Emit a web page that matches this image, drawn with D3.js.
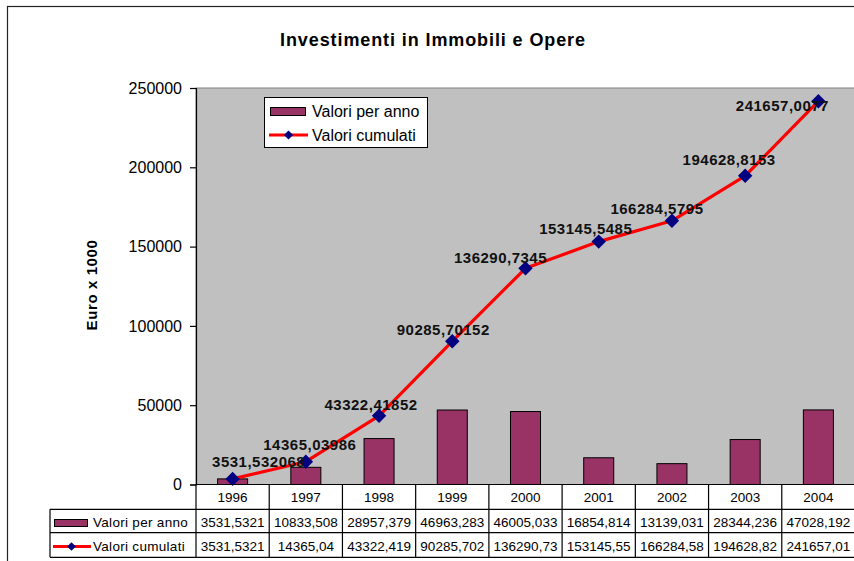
<!DOCTYPE html>
<html><head><meta charset="utf-8">
<script src="https://cdn.jsdelivr.net/npm/d3@7"></script>
<style>
html,body{margin:0;padding:0;background:#fff;}
svg{display:block;font-family:"Liberation Sans",Arial,sans-serif;}
</style></head>
<body><svg id="chart" width="854" height="561"></svg>
<script>
const title = "Investimenti in Immobili e Opere";
const yTitle = "Euro x 1000";
const years = ["1996","1997","1998","1999","2000","2001","2002","2003","2004"];
const seriesNames = ["Valori per anno","Valori cumulati"];
const perAnno = [3531.5321,10833.508,28957.379,46963.283,46005.033,16854.814,13139.031,28344.236,47028.192];
const cumulati = [3531.532068,14365.03986,43322.41852,90285.70152,136290.7345,153145.5485,166284.5795,194628.8153,241657.0077];
const perAnnoText = ["3531,5321","10833,508","28957,379","46963,283","46005,033","16854,814","13139,031","28344,236","47028,192"];
const cumulatiText = ["3531,5321","14365,04","43322,419","90285,702","136290,73","153145,55","166284,58","194628,82","241657,01"];
const labelText = ["3531,532068","14365,03986","43322,41852","90285,70152","136290,7345","153145,5485","166284,5795","194628,8153","241657,0077"];
const yTicks = [0,50000,100000,150000,200000,250000];

// layout (not data)
const labelDx = [26,4,-8,-9,-25,-13,-15,-16,-36];
const labelDy = [-12,-12,-6,-6,-5,-8,-7,-11,10];

const svg = d3.select("#chart");
const L = 196, R = 855, T = 88, B = 484.5;
const rowY = [484.5, 509.3, 532.7, 557.3];
const tableLeft = 50;

const x = d3.scaleBand().domain(years).range([L, R]).padding(0);
const y = d3.scaleLinear().domain([0, 250000]).range([B, T]);
const barW = x.bandwidth() * 0.41;
const cx = d => x(d) + x.bandwidth() / 2;

// outer border
svg.append("rect").attr("x", 7.5).attr("y", 6.5).attr("width", 900).attr("height", 600)
  .attr("fill", "#fff").attr("stroke", "#222").attr("stroke-width", 1.2);

// plot area
svg.append("rect").attr("x", L).attr("y", T).attr("width", R - L).attr("height", B - T)
  .attr("fill", "#C0C0C0").attr("stroke", "#808080").attr("stroke-width", 1);

// title
svg.append("text").attr("x", 433).attr("y", 46).attr("text-anchor", "middle")
  .attr("font-size", 18).attr("font-weight", "bold").attr("letter-spacing", 0.9)
  .attr("fill", "#000").text(title);

// y axis title
svg.append("text").attr("transform", "translate(97,285) rotate(-90)").attr("text-anchor", "middle")
  .attr("font-size", 15).attr("font-weight", "bold").attr("letter-spacing", 0.6)
  .text(yTitle);

// bars
svg.append("g").selectAll("rect").data(perAnno).join("rect")
  .attr("x", (d, i) => cx(years[i]) - barW / 2)
  .attr("y", d => y(d))
  .attr("width", barW)
  .attr("height", d => B - y(d))
  .attr("fill", "#993366").attr("stroke", "#000").attr("stroke-width", 1);

// y axis
const yAxis = svg.append("g").attr("transform", `translate(${L},0)`)
  .call(d3.axisLeft(y).tickValues(yTicks).tickFormat(d3.format("d")).tickSize(6).tickPadding(8));
yAxis.select(".domain").attr("stroke", "#000").attr("stroke-width", 1.2);
yAxis.selectAll(".tick line").attr("stroke", "#000").attr("stroke-width", 1.2);
yAxis.selectAll(".tick text").attr("font-size", 16).attr("fill", "#000")
  .attr("font-family", "Liberation Sans, Arial, sans-serif");

// line
const line = d3.line().x((d, i) => cx(years[i])).y(d => y(d));
svg.append("path").datum(cumulati).attr("d", line).attr("fill", "none")
  .attr("stroke", "#FF0000").attr("stroke-width", 3.2).attr("stroke-linejoin", "round");

const diamond = d3.symbol(d3.symbolSquare, 104);
svg.append("g").selectAll("path").data(cumulati).join("path")
  .attr("d", diamond)
  .attr("transform", (d, i) => `translate(${cx(years[i])},${y(d)}) rotate(45)`)
  .attr("fill", "#000080");

// data labels
svg.append("g").selectAll("text").data(cumulati).join("text")
  .attr("x", (d, i) => cx(years[i]) + labelDx[i])
  .attr("y", (d, i) => y(d) + labelDy[i])
  .attr("text-anchor", "middle").attr("font-size", 15).attr("font-weight", "bold")
  .attr("letter-spacing", 0.5).attr("fill", "#111")
  .text((d, i) => labelText[i]);

// legend box
const lg = svg.append("g");
lg.append("rect").attr("x", 264.5).attr("y", 97.5).attr("width", 163).attr("height", 50)
  .attr("fill", "#fff").attr("stroke", "#000").attr("stroke-width", 1);
lg.append("rect").attr("x", 270.5).attr("y", 107.5).attr("width", 35).attr("height", 8)
  .attr("fill", "#993366").attr("stroke", "#000").attr("stroke-width", 1);
lg.append("text").attr("x", 312).attr("y", 117).attr("font-size", 16).text(seriesNames[0]);
lg.append("line").attr("x1", 269).attr("x2", 308).attr("y1", 135).attr("y2", 135)
  .attr("stroke", "#FF0000").attr("stroke-width", 3.2);
lg.append("path").attr("d", d3.symbol(d3.symbolSquare, 42)).attr("transform", "translate(288.5,135) rotate(45)")
  .attr("fill", "#000080");
lg.append("text").attr("x", 312).attr("y", 141).attr("font-size", 16).text(seriesNames[1]);

// data table
const tb = svg.append("g").attr("stroke", "#000").attr("stroke-width", 1.2);
tb.append("line").attr("x1", L).attr("x2", R).attr("y1", rowY[0]).attr("y2", rowY[0]);
[1, 2, 3].forEach(k => tb.append("line").attr("x1", tableLeft).attr("x2", R).attr("y1", rowY[k]).attr("y2", rowY[k]));
tb.append("line").attr("x1", tableLeft).attr("x2", tableLeft).attr("y1", rowY[1]).attr("y2", rowY[3]);
years.forEach(yr => tb.append("line").attr("x1", x(yr)).attr("x2", x(yr)).attr("y1", rowY[0]).attr("y2", rowY[3]));

const tt = svg.append("g").attr("font-size", 13.5).attr("fill", "#000").attr("text-anchor", "middle");
years.forEach((yr, i) => {
  tt.append("text").attr("x", cx(yr)).attr("y", 501.5).text(yr);
  tt.append("text").attr("x", cx(yr)).attr("y", 527).text(perAnnoText[i]);
  tt.append("text").attr("x", cx(yr)).attr("y", 551).text(cumulatiText[i]);
});
// table legend
svg.append("rect").attr("x", 54.5).attr("y", 519.5).attr("width", 33).attr("height", 7)
  .attr("fill", "#993366").attr("stroke", "#000").attr("stroke-width", 1);
svg.append("text").attr("x", 93).attr("y", 527).attr("font-size", 13.5).attr("letter-spacing", 0.3).text(seriesNames[0]);
svg.append("line").attr("x1", 53).attr("x2", 91).attr("y1", 546.5).attr("y2", 546.5)
  .attr("stroke", "#FF0000").attr("stroke-width", 3.2);
svg.append("path").attr("d", d3.symbol(d3.symbolSquare, 38)).attr("transform", "translate(71.5,546.5) rotate(45)")
  .attr("fill", "#000080");
svg.append("text").attr("x", 93).attr("y", 551).attr("font-size", 13.5).attr("letter-spacing", 0.3).text(seriesNames[1]);
</script></body></html>
